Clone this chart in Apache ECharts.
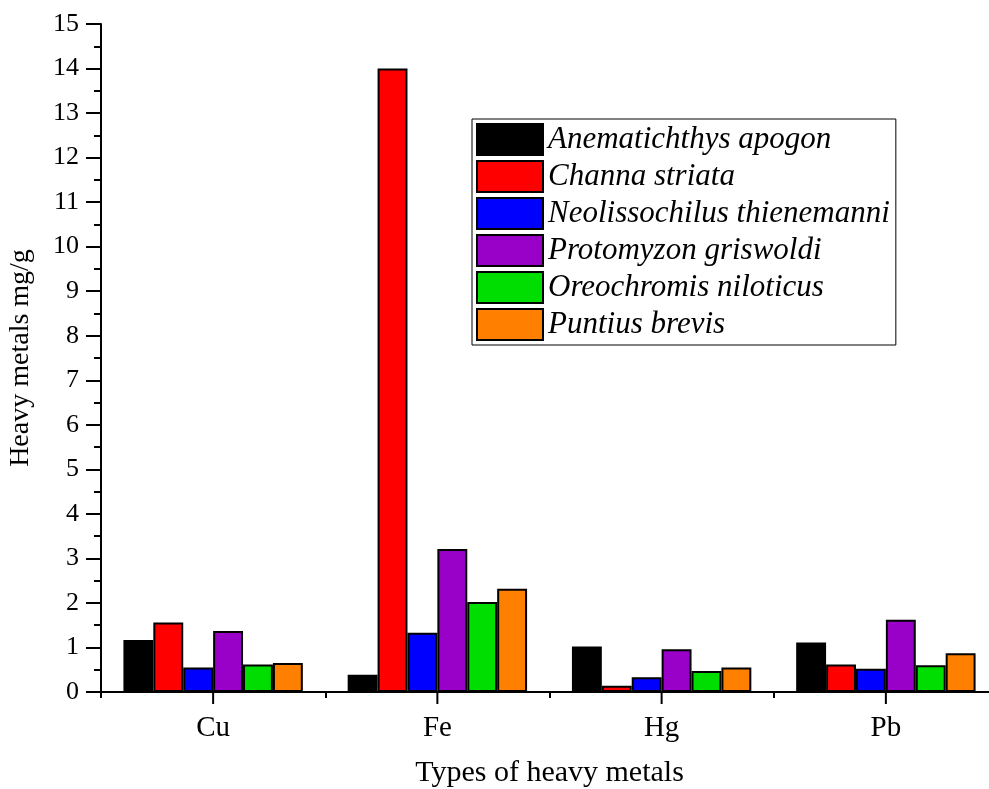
<!DOCTYPE html>
<html>
<head>
<meta charset="utf-8">
<script src="https://cdn.jsdelivr.net/npm/echarts@6/dist/echarts.min.js"></script>
<style>
  html, body { margin: 0; padding: 0; background: #fff; }
  #chart { width: 989px; height: 789px; }
</style>
</head>
<body>
<div id="chart"></div>
<script>
// heavy metal content per fish species (mg/g)
const metals = ['Cu', 'Fe', 'Hg', 'Pb'];
const species = [
  'Anematichthys apogon',
  'Channa striata',
  'Neolissochilus thienemanni',
  'Protomyzon griswoldi',
  'Oreochromis niloticus',
  'Puntius brevis'
];
const apogon = [1.17, 0.39, 1.02, 1.11];
const striata = [1.56, 14.0, 0.14, 0.62];
const thienemanni = [0.55, 1.33, 0.33, 0.52];
const griswoldi = [1.37, 3.21, 0.96, 1.62];
const niloticus = [0.62, 2.02, 0.47, 0.60];
const brevis = [0.65, 2.32, 0.55, 0.87];
const yTicks = [0, 15, 1];

const colors = ['#000000', '#ff0000', '#0000ff', '#9900c8', '#00dd00', '#ff8000'];
const values = [apogon, striata, thienemanni, griswoldi, niloticus, brevis];
const font = 'Liberation Serif';

let chart = echarts.init(document.getElementById('chart'));

let series = species.map((name, i) => ({
  name: name,
  type: 'bar',
  data: values[i],
  barGap: '0%',
  barCategoryGap: '20%',
  itemStyle: { color: colors[i], borderColor: '#000', borderWidth: 2 }
}));

// long tick under each metal label, placed through the category scale
series.push({
  name: 'labelTicks',
  type: 'custom',
  silent: true,
  clip: false,
  z: 10,
  data: metals.map(m => [m, yTicks[0]]),
  renderItem: (params, api) => {
    let p = api.coord([api.value(0), api.value(1)]);
    return {
      type: 'line',
      shape: { x1: p[0], y1: p[1], x2: p[0], y2: p[1] + 12 },
      style: { stroke: '#000', lineWidth: 2 }
    };
  }
});

chart.setOption({
  animation: false,
  backgroundColor: '#fff',
  grid: { left: 101, top: 24, right: -9, bottom: 97, outerBoundsMode: 'none', containLabel: false },
  legend: {
    orient: 'vertical',
    left: 472,
    top: 119,
    itemWidth: 66,
    itemHeight: 31,
    itemGap: 4,
    padding: [4, 6, 4, 4],
    borderColor: '#000',
    borderWidth: 1,
    icon: 'rect',
    data: species,
    textStyle: { fontFamily: font, fontStyle: 'italic', fontSize: 31, color: '#000' }
  },
  xAxis: {
    type: 'category',
    data: metals,
    name: 'Types of heavy metals',
    nameLocation: 'middle',
    nameGap: 66,
    nameTextStyle: { fontFamily: font, fontSize: 30, color: '#000' },
    axisLine: { lineStyle: { color: '#000', width: 2 } },
    axisTick: { show: true, length: 6, lineStyle: { color: '#000', width: 2 } },
    axisLabel: { margin: 22, fontFamily: font, fontSize: 29, color: '#000' }
  },
  yAxis: {
    type: 'value',
    min: yTicks[0],
    max: yTicks[1],
    interval: yTicks[2],
    name: 'Heavy metals mg/g',
    nameLocation: 'middle',
    nameGap: 66,
    nameTextStyle: { fontFamily: font, fontSize: 28, color: '#000' },
    axisLine: { show: true, lineStyle: { color: '#000', width: 2 } },
    axisTick: { show: true, length: 15, lineStyle: { color: '#000', width: 2 } },
    minorTick: { show: true, splitNumber: 2, length: 7, lineStyle: { color: '#000', width: 2 } },
    axisLabel: { margin: 22, fontFamily: font, fontSize: 26, color: '#000' },
    splitLine: { show: false }
  },
  series: series
});
</script>
</body>
</html>
